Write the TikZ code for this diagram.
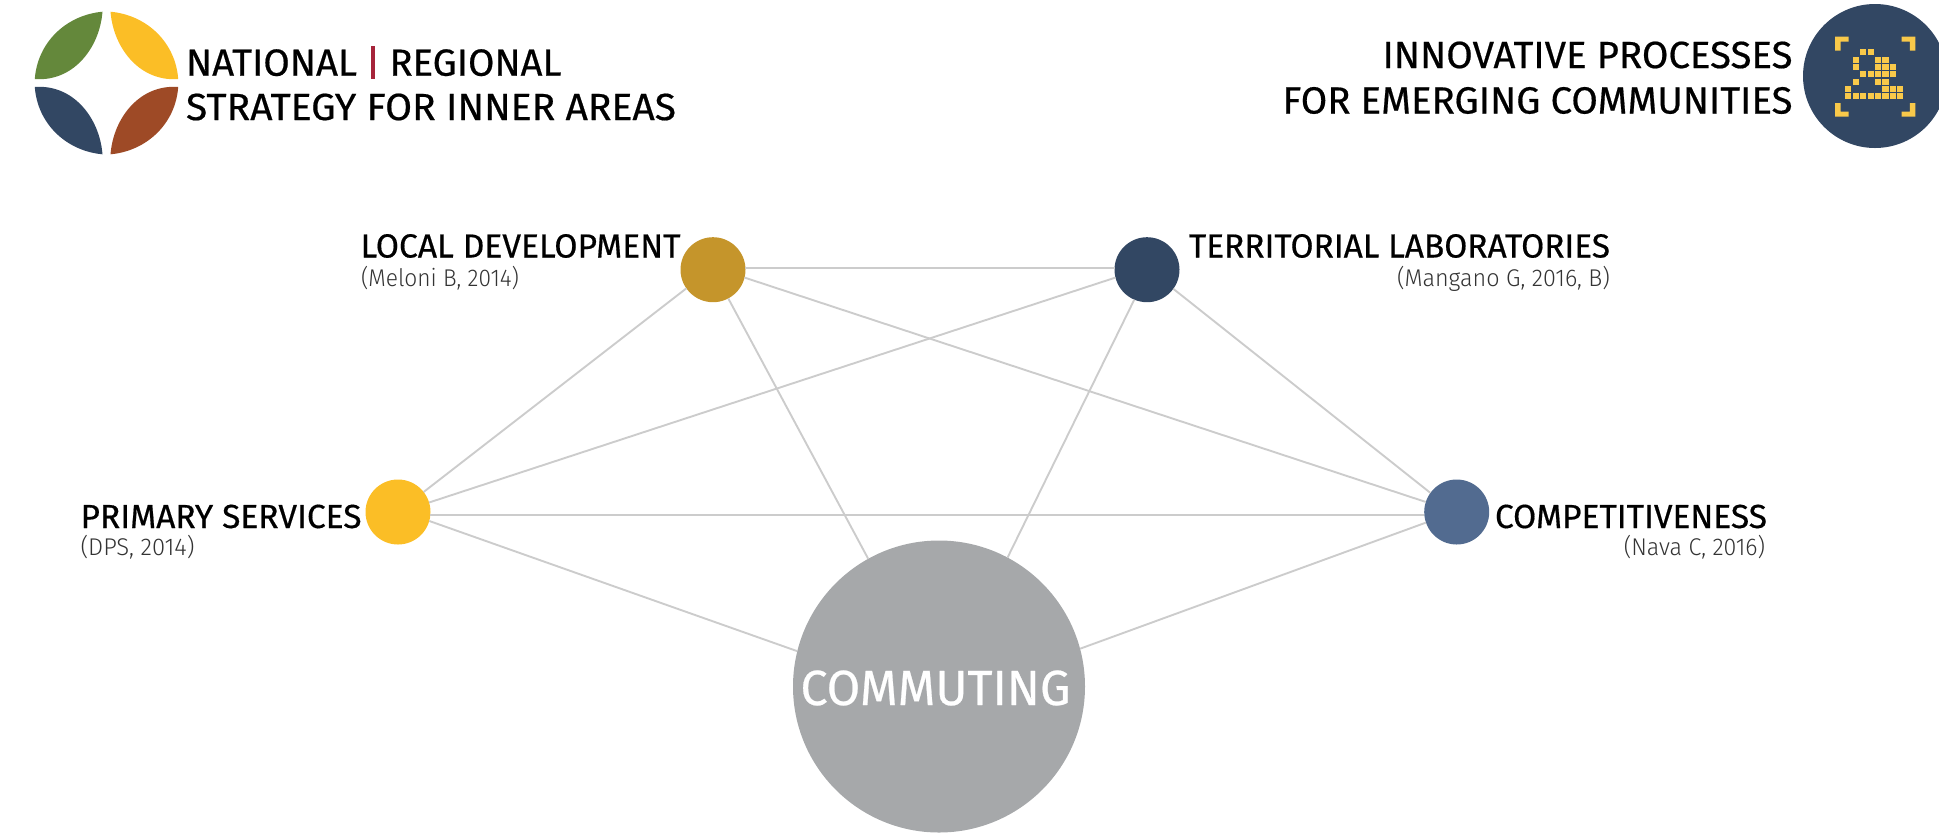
\documentclass[tikz,border=0pt]{standalone}
\usepackage{fontspec}
\usepackage{graphicx}
\setmainfont{Fira Sans}[FakeBold=0.5]
\newfontfamily\lightf{Fira Sans Light}
\definecolor{cLocal}{HTML}{C5952B}
\definecolor{cNavy}{HTML}{324763}
\definecolor{cYellow}{HTML}{FBBE26}
\definecolor{cSteel}{HTML}{526B90}
\definecolor{cGrey}{HTML}{A6A8AA}
\definecolor{cGreen}{HTML}{64883B}
\definecolor{cBrown}{HTML}{9E4A26}
\definecolor{cLine}{HTML}{CCCCCC}
\definecolor{cRed}{HTML}{A6243A}
\definecolor{cPix}{HTML}{F9C94A}
\definecolor{cInk}{HTML}{000000}
\definecolor{cSub}{HTML}{333333}
\newcommand{\fitw}[2]{\resizebox{#1pt}{\height}{#2}}
\newcommand{\leafshape}{(-4,-71.3) .. controls (-40,-68) and (-69,-41) .. (-71.7,-4) .. controls (-34,-1) and (-7,-34) .. cycle}
\newcommand{\pix}[2]{\fill[cPix] ({1848.3+7.43*#1-3.1},{52.3+7.33*#2-3.1}) rectangle ++(6.2,6.2);}
\tikzset{
  dot/.style={circle,minimum size=32.5pt,inner sep=0pt,outer sep=0pt},
  wire/.style={draw=cLine,line width=0.95pt},
  head/.style={inner sep=0pt,outer sep=0pt,text=cInk,font=\fontsize{18.9pt}{20pt}\selectfont},
  title/.style={inner sep=0pt,outer sep=0pt,text=cInk,font=\fontsize{16.7pt}{18pt}\selectfont},
  cite/.style={inner sep=0pt,outer sep=0pt,text=cSub,font=\lightf\fontsize{12.1pt}{14pt}\selectfont},
}
\begin{document}
\begin{tikzpicture}[x=0.5pt,y=-0.5pt]
\path[use as bounding box,clip] (0,0) rectangle (1939,832);
% logo
\begin{scope}[shift={(106.5,83)}]
  \fill[cGreen] \leafshape;
  \fill[cYellow,xscale=-1] \leafshape;
  \fill[cNavy,yscale=-1] \leafshape;
  \fill[cBrown,xscale=-1,yscale=-1] \leafshape;
\end{scope}
\node[head,anchor=base west] (nat) at (186,75.7) {\fitw{85.5}{NATIONAL}};
\fill[cRed] (371,46) rectangle (375,79);
\node[head,anchor=base west] (reg) at (389.5,75.7) {\fitw{86}{REGIONAL}};
\node[head,anchor=base west] (str) at (186,120) {\fitw{245}{STRATEGY FOR INNER AREAS}};
% badge
\fill[cNavy] (1875,76) circle (72);
\foreach \c/\r in {2/0,3/0,1/1,4/1,5/1,1/2,4/2,5/2,6/2,2/3,3/3,4/3,5/3,6/3,1/4,4/4,5/4,0/5,5/5,6/5,7/5,0/6,1/6,2/6,3/6,4/6,5/6,6/6,7/6}{\pix{\c}{\r}}
\fill[cPix] (1835,36.7) -- (1848.5,36.7) -- (1848.5,41.7) -- (1840.5,41.7) -- (1840.5,50.7) -- (1835,50.7) -- cycle;
\fill[cPix] (1915.3,36.7) -- (1901.5,36.7) -- (1901.5,41.7) -- (1909.8,41.7) -- (1909.8,50.7) -- (1915.3,50.7) -- cycle;
\fill[cPix] (1835,116.7) -- (1848.5,116.7) -- (1848.5,111.7) -- (1840.5,111.7) -- (1840.5,103) -- (1835,103) -- cycle;
\fill[cPix] (1915.3,116.7) -- (1901.5,116.7) -- (1901.5,111.7) -- (1909.8,111.7) -- (1909.8,103) -- (1915.3,103) -- cycle;
\node[head,anchor=base east] (inn) at (1792.5,68) {\fitw{205}{INNOVATIVE PROCESSES}};
\node[head,anchor=base east] (for) at (1792.5,113.5) {\fitw{255}{FOR EMERGING COMMUNITIES}};
% network
\node[dot,fill=cLocal] (L) at (713,269.7) {};
\node[dot,fill=cNavy] (T) at (1147,269.7) {};
\node[dot,fill=cYellow] (P) at (398,512) {};
\node[dot,fill=cSteel] (K) at (1456.7,512) {};
\node[circle,fill=cGrey,minimum size=146pt,inner sep=0pt,outer sep=0pt] (C) at (939,686.5) {};
\node[inner sep=0pt,outer sep=0pt,anchor=base west,text=white,font=\fontsize{24.7pt}{26pt}\selectfont] (cc) at (800.5,705) {\fitw{135}{COMMUTING}};
\draw[wire] (L.3) -- (T.177);
\draw[wire] (L.215) -- (P.38);
\draw[wire] (L.-14) -- (K.162.5);
\draw[wire] (L.-62) -- (C.119.5);
\draw[wire] (T.194) -- (P.17.4);
\draw[wire] (T.-36) -- (K.144);
\draw[wire] (T.247.6) -- (C.62.4);
\draw[wire] (P.-5) -- (K.185);
\draw[wire] (P.-16) -- (C.166.3);
\draw[wire] (K.199.5) -- (C.15.2);
% labels
\node[title,anchor=base west] (lt) at (360.5,257.5) {\fitw{160}{LOCAL DEVELOPMENT}};
\node[cite,anchor=base west] (lc) at (361,286.7) {\fitw{79}{(Meloni B, 2014)}};
\node[title,anchor=base east] (tt) at (1610,257.5) {\fitw{210.5}{TERRITORIAL LABORATORIES}};
\node[cite,anchor=base east] (tc) at (1610,286.7) {\fitw{106.5}{(Mangano G, 2016, B)}};
\node[title,anchor=base west] (pt) at (80.5,528) {\fitw{140.5}{PRIMARY SERVICES}};
\node[cite,anchor=base west] (pc) at (80.5,555) {\fitw{57}{(DPS, 2014)}};
\node[title,anchor=base east] (kt) at (1767,528) {\fitw{136}{COMPETITIVENESS}};
\node[cite,anchor=base east] (kc) at (1765,555) {\fitw{70.6}{(Nava C, 2016)}};
\end{tikzpicture}
\end{document}
